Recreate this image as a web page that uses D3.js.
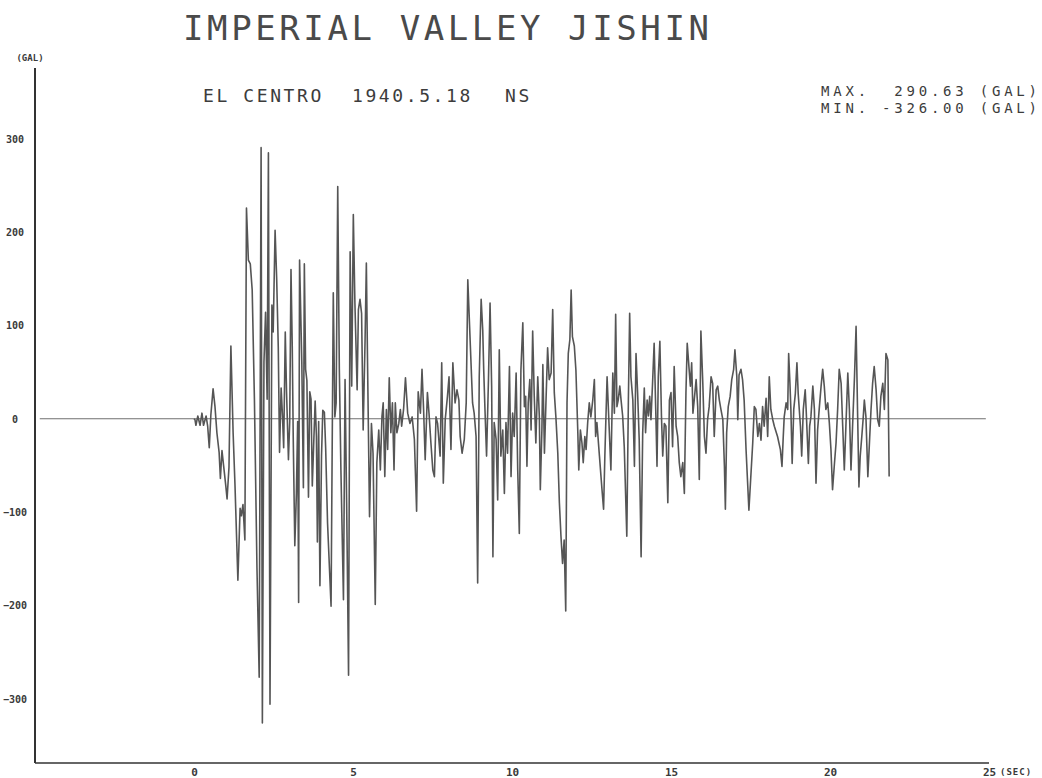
<!DOCTYPE html>
<html>
<head>
<meta charset="utf-8">
<script src="https://cdn.jsdelivr.net/npm/d3@7"></script>
<style>
  html, body { margin: 0; padding: 0; background: #ffffff; }
  svg { display: block; }
  text { font-family: "DejaVu Sans Mono", "Liberation Mono", monospace; white-space: pre; }
</style>
</head>
<body>
<svg id="chart" width="1042" height="778"></svg>
<script>
// Ground acceleration, El Centro 1940-05-18, N-S component (time in s, acceleration in gal)
const timeSec = [
  0.00, 0.03, 0.06, 0.12, 0.19, 0.25, 0.30, 0.38, 0.43, 0.48, 0.53, 0.60, 0.66, 0.72, 0.79, 0.83, 0.88, 0.93, 1.00, 1.04,
  1.10, 1.16, 1.23, 1.29, 1.38, 1.45, 1.49, 1.54, 1.60, 1.65, 1.71, 1.77, 1.83, 1.90, 1.98, 2.05, 2.11, 2.15, 2.20, 2.25,
  2.30, 2.34, 2.39, 2.45, 2.49, 2.55, 2.60, 2.65, 2.69, 2.74, 2.78, 2.82, 2.87, 2.91, 2.97, 3.01, 3.05, 3.09, 3.12, 3.17,
  3.22, 3.26, 3.29, 3.32, 3.39, 3.44, 3.47, 3.51, 3.55, 3.60, 3.64, 3.68, 3.72, 3.76, 3.81, 3.85, 3.88, 3.92, 3.96, 4.01,
  4.05, 4.10, 4.14, 4.20, 4.31, 4.38, 4.43, 4.47, 4.52, 4.57, 4.62, 4.70, 4.75, 4.80, 4.86, 4.91, 4.96, 5.01, 5.06, 5.13,
  5.17, 5.22, 5.27, 5.32, 5.38, 5.42, 5.46, 5.52, 5.58, 5.63, 5.70, 5.75, 5.81, 5.86, 5.91, 5.95, 6.00, 6.05, 6.09, 6.14,
  6.19, 6.24, 6.29, 6.33, 6.38, 6.44, 6.49, 6.53, 6.59, 6.65, 6.72, 6.79, 6.86, 6.93, 7.00, 7.05, 7.12, 7.17, 7.22, 7.27,
  7.34, 7.39, 7.45, 7.51, 7.56, 7.61, 7.66, 7.74, 7.79, 7.84, 7.90, 7.97, 8.02, 8.08, 8.14, 8.21, 8.27, 8.33, 8.37, 8.43,
  8.50, 8.56, 8.61, 8.76, 8.81, 8.87, 8.92, 8.97, 9.03, 9.08, 9.11, 9.15, 9.20, 9.26, 9.31, 9.36, 9.40, 9.44, 9.50, 9.55,
  9.60, 9.65, 9.71, 9.76, 9.81, 9.86, 9.92, 9.97, 10.02, 10.07, 10.13, 10.18, 10.23, 10.28, 10.34, 10.39, 10.43, 10.47, 10.51, 10.56,
  10.60, 10.65, 10.70, 10.75, 10.81, 10.86, 10.89, 10.94, 10.97, 11.02, 11.07, 11.12, 11.17, 11.23, 11.28, 11.33, 11.38, 11.44, 11.49, 11.54,
  11.59, 11.64, 11.69, 11.73, 11.77, 11.82, 11.86, 11.90, 11.96, 12.01, 12.07, 12.10, 12.15, 12.20, 12.24, 12.29, 12.33, 12.38, 12.43, 12.48,
  12.54, 12.59, 12.63, 12.67, 12.75, 12.83, 12.88, 12.92, 12.99, 13.11, 13.17, 13.22, 13.26, 13.30, 13.34, 13.39, 13.43, 13.48, 13.53, 13.61,
  13.66, 13.70, 13.74, 13.80, 13.85, 13.90, 13.95, 14.00, 14.06, 14.11, 14.16, 14.20, 14.25, 14.29, 14.33, 14.37, 14.42, 14.47, 14.52, 14.56,
  14.60, 14.65, 14.70, 14.74, 14.79, 14.84, 14.90, 14.95, 15.00, 15.05, 15.10, 15.16, 15.21, 15.26, 15.31, 15.37, 15.42, 15.47, 15.51, 15.57,
  15.61, 15.65, 15.69, 15.73, 15.79, 15.84, 15.89, 15.94, 16.00, 16.05, 16.10, 16.15, 16.20, 16.26, 16.31, 16.36, 16.42, 16.47, 16.52, 16.57,
  16.63, 16.68, 16.71, 16.75, 16.80, 16.86, 16.91, 16.97, 17.01, 17.07, 17.10, 17.14, 17.20, 17.25, 17.30, 17.36, 17.45, 17.57, 17.62, 17.67,
  17.73, 17.78, 17.83, 17.88, 17.93, 17.99, 18.04, 18.09, 18.14, 18.20, 18.25, 18.35, 18.44, 18.49, 18.53, 18.56, 18.62, 18.67, 18.70, 18.74,
  18.77, 18.81, 18.86, 18.91, 18.96, 19.00, 19.07, 19.11, 19.16, 19.22, 19.25, 19.32, 19.36, 19.40, 19.46, 19.51, 19.56, 19.61, 19.66, 19.72,
  19.77, 19.82, 19.87, 19.93, 19.98, 20.03, 20.08, 20.14, 20.19, 20.24, 20.29, 20.35, 20.40, 20.45, 20.50, 20.56, 20.61, 20.66, 20.71, 20.77,
  20.82, 20.87, 20.91, 20.95, 21.00, 21.04, 21.08, 21.13, 21.19, 21.24, 21.29, 21.34, 21.39, 21.45, 21.50, 21.55, 21.60, 21.66, 21.71, 21.76,
  21.82, 21.86
];
const accelGal = [
  0, -1, -7, 3, -7, 6, -7, 3, -8, -31, 4, 32, 13, -15, -36, -64, -34, -50, -72, -86,
  -52, 78, -15, -72, -173, -96, -104, -92, -130, 226, 170, 166, 138, 21, -160, -277, 290.63, -326, 61, 114,
  21, 285, -306, 122, 93, 202, 150, 77, -36, 33, 5, -31, 93, 29, -44, -3, 160, 77, -19, -136,
  -80, -3, -197, 170, 61, -74, 166, 53, 41, -84, 29, 21, -72, -31, 19, -19, -132, -3, -179, -40,
  9, 7, -31, -112, -201, 135, 2, 17, 249, 53, -55, -194, 42, -90, -275, 179, 35, 219, 124, 31,
  117, 128, 113, -12, 85, 167, 53, -105, -5, -37, -199, -47, -12, -55, 2, 17, -62, 10, -33, 44,
  -15, 17, -55, 17, -15, -5, 10, -8, 10, 44, 6, -5, 2, -22, -99, 29, 6, 53, 10, -44,
  28, 6, -26, -55, -62, 2, -5, -40, 60, -69, -1, 24, 45, -33, 60, 17, 31, 20, -19, -37,
  -22, 17, 149, 17, 6, -19, -176, 45, 128, 95, 53, 10, -40, 42, 124, 35, -148, -4, -22, -87,
  74, -40, -12, -80, -4, -37, 56, -62, 6, -19, 49, -55, -123, 52, 103, 13, 24, -51, 17, 42,
  -12, 94, 24, -26, 45, 2, -76, -12, 58, -37, 20, 76, 42, 49, 117, 28, 2, -37, -90, -126,
  -155, -130, -206, 17, 70, 85, 138, 88, 78, 52, -15, -55, -12, -26, -47, -19, -33, -4, 17, 2,
  20, 42, -19, -4, -40, -76, -97, -40, 45, -55, 49, 6, 112, 13, 20, 35, 20, 3, -30, -126,
  20, 113, 45, 20, -51, 70, 28, -22, -148, -15, 33, -15, 20, 3, 24, -1, 38, 81, 10, -51,
  45, 83, 3, -40, -5, -8, -90, 20, 28, -30, 56, -8, -19, -47, -62, -47, -80, 28, 81, 53,
  35, 60, 6, 20, 42, 13, -65, 94, 38, -19, -37, -1, 13, 45, 38, -19, 31, 35, 20, 10,
  -1, -51, -97, -15, 13, 24, 42, 53, 74, 45, -1, 47, 53, 42, 20, -33, -98, -26, 13, 10,
  -19, -5, -23, 13, -8, 22, -19, 45, 10, -1, -8, -19, -33, -51, -19, 2, 17, 10, 70, 38,
  10, -48, 10, 27, 60, 27, -8, -40, 10, 31, 10, -48, -8, 2, 35, 10, -69, -12, 10, 35,
  53, 35, 10, 17, -5, -33, -76, -48, -26, 10, 53, 38, -8, -55, -8, 49, 10, -55, -8, 45,
  99, 2, -73, -40, -19, -1, 20, 2, -62, -26, 10, 38, 56, 31, -1, -8, 24, 38, 10, 70,
  63, -62
];

const yTickValues = [300, 200, 100, 0, -100, -200, -300];
const xTickValues = [0, 5, 10, 15, 20, 25];
const titleText = "IMPERIAL VALLEY JISHIN";
const stationText = "EL CENTRO";
const dateText = "1940.5.18";
const componentText = "NS";
const maxText = "MAX.  290.63 (GAL)";
const minText = "MIN. -326.00 (GAL)";
const yUnitText = "(GAL)";
const xUnitText = "(SEC)";

const record = timeSec.map((t, i) => ({ t, a: accelGal[i] }));

const svg = d3.select("#chart");
svg.append("rect").attr("width", 1042).attr("height", 778).attr("fill", "#ffffff");

const x = d3.scaleLinear().domain([-5, 25]).range([35, 989]);
const y = d3.scaleLinear().domain([-369, 376]).range([763, 68]);

// zero reference line across the record
svg.append("line")
  .attr("x1", x(-4.85)).attr("x2", x(24.9))
  .attr("y1", y(0)).attr("y2", y(0))
  .attr("stroke", "#6f6f6f").attr("stroke-width", 1.2);

// accelerogram trace
const line = d3.line().x(d => x(d.t)).y(d => y(d.a));
svg.append("path")
  .datum(record)
  .attr("d", line)
  .attr("fill", "none")
  .attr("stroke", "#555555")
  .attr("stroke-width", 1.6)
  .attr("stroke-linejoin", "round");

// axes
const xAxis = svg.append("g")
  .attr("transform", `translate(0,${y.range()[0]})`)
  .call(d3.axisBottom(x).tickValues(xTickValues).tickSize(0).tickPadding(5).tickFormat(d3.format("d")));
xAxis.select(".domain").remove();
xAxis.selectAll("text")
  .attr("font-family", "DejaVu Sans Mono")
  .attr("font-size", 11).attr("font-weight", "bold").attr("fill", "#3a3a3a");

const yAxis = svg.append("g")
  .attr("transform", `translate(${x.range()[0]},0)`)
  .call(d3.axisLeft(y).tickValues(yTickValues).tickSize(0).tickFormat(d3.format("d")));
yAxis.select(".domain").remove();
yAxis.selectAll("text")
  .attr("x", -20).attr("dy", "0.35em").attr("text-anchor", "middle")
  .attr("font-family", "DejaVu Sans Mono")
  .attr("font-size", 10).attr("font-weight", "bold").attr("fill", "#3a3a3a");

svg.append("line")
  .attr("x1", x.range()[0]).attr("x2", x.range()[0])
  .attr("y1", y.range()[1]).attr("y2", y.range()[0])
  .attr("stroke", "#333333").attr("stroke-width", 2);
svg.append("line")
  .attr("x1", x.range()[0]).attr("x2", x(25))
  .attr("y1", y.range()[0]).attr("y2", y.range()[0])
  .attr("stroke", "#333333").attr("stroke-width", 1.6);

// unit labels
svg.append("text").attr("x", 30).attr("y", 61).attr("text-anchor", "middle")
  .attr("font-size", 9).attr("font-weight", "bold").attr("fill", "#3a3a3a")
  .text(yUnitText);
svg.append("text").attr("x", 1000).attr("y", 775)
  .attr("font-size", 9).attr("font-weight", "bold").attr("fill", "#3a3a3a")
  .style("letter-spacing", "1px")
  .text(xUnitText);

// headings
svg.append("text").attr("x", 183).attr("y", 40)
  .attr("font-size", 34).attr("fill", "#4a4a4a")
  .style("letter-spacing", "3.6px")
  .text(titleText);

const subStyle = sel => sel.attr("font-size", 18).attr("fill", "#3c3c3c").style("letter-spacing", "2.6px");
svg.append("text").attr("x", 203).attr("y", 102).call(subStyle).text(stationText);
svg.append("text").attr("x", 352).attr("y", 102).call(subStyle).text(dateText);
svg.append("text").attr("x", 505).attr("y", 102).call(subStyle).text(componentText);

// peak values, fitted to end at the right edge
const statStyle = sel => sel.attr("font-size", 14).attr("fill", "#3c3c3c")
  .attr("textLength", 216).attr("lengthAdjust", "spacing");
svg.append("text").attr("x", 821).attr("y", 96).call(statStyle).text(maxText);
svg.append("text").attr("x", 821).attr("y", 113).call(statStyle).text(minText);
</script>
</body>
</html>
